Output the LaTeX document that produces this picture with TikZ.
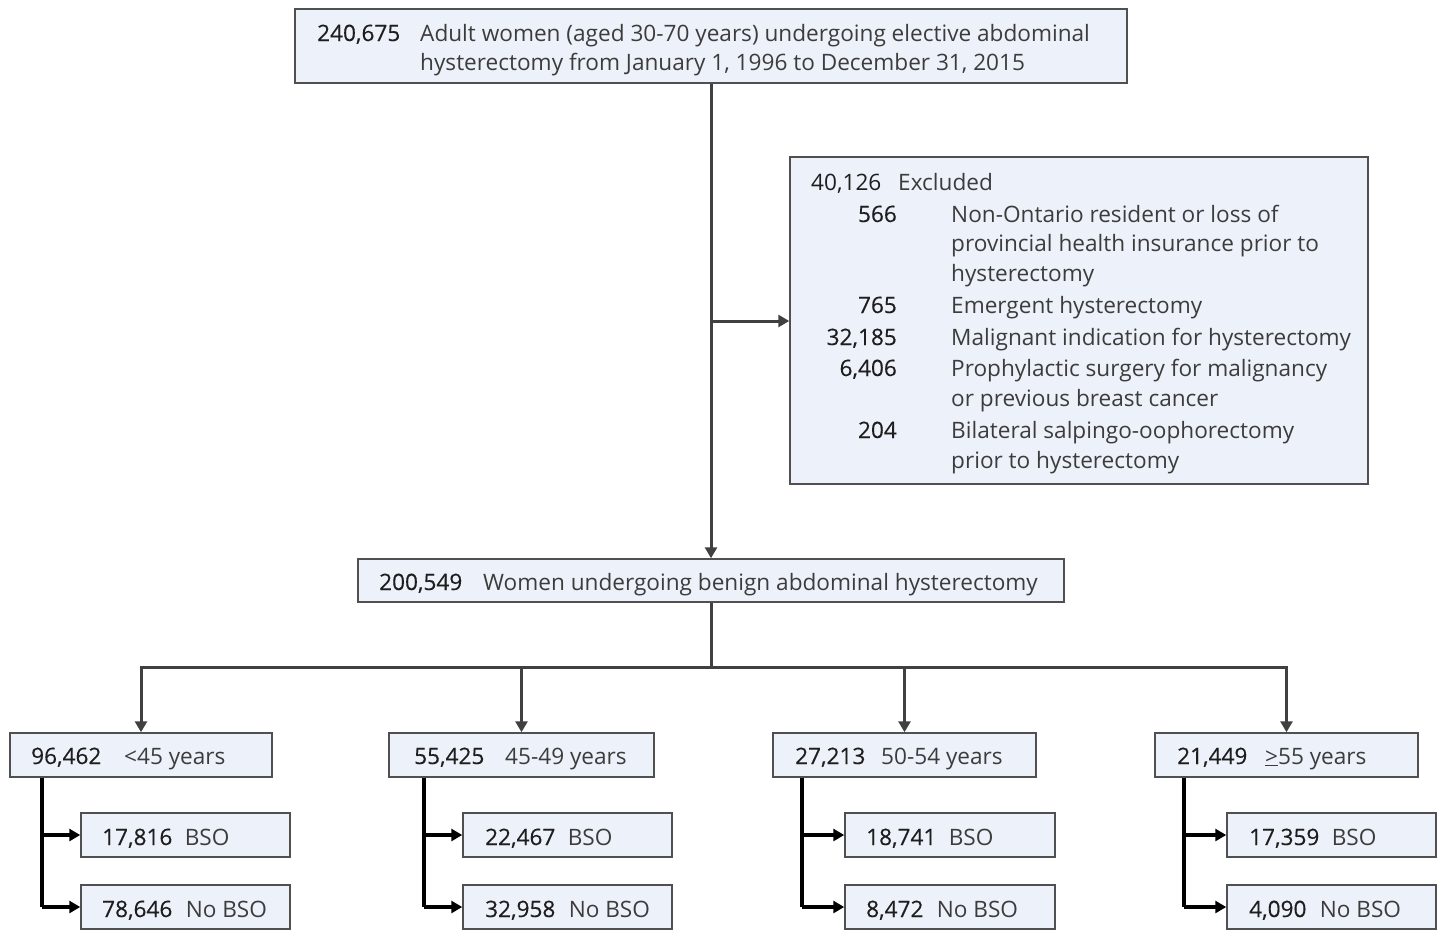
\documentclass[tikz,border=0pt]{standalone}
\usepackage{fontspec}
\setmainfont{Open Sans}
\newfontfamily\numfont{Open Sans}[FakeBold=0.3]
\usetikzlibrary{arrows.meta}
\definecolor{boxfill}{RGB}{237,242,250}
\definecolor{boxdraw}{RGB}{80,80,80}
\definecolor{linegray}{RGB}{64,64,64}
\definecolor{numcol}{RGB}{30,30,30}
\definecolor{txtcol}{RGB}{60,60,60}
\begin{document}
\begin{tikzpicture}[x=1pt,y=-1pt,
  box/.style={draw=boxdraw, fill=boxfill, line width=1.5pt, rectangle, inner sep=0pt},
  num/.style={inner sep=0pt, anchor=base west, text=numcol, font=\numfont\fontsize{22.6}{30}\selectfont},
  numr/.style={num, anchor=base east},
  txt/.style={inner sep=0pt, anchor=base west, text=txtcol, font=\fontsize{22.6}{30}\selectfont},
  mainline/.style={draw=linegray, line width=3pt},
  mainarrow/.style={mainline, -{Triangle[length=11pt,width=12pt]}},
  subline/.style={draw=black, line width=3.2pt},
  subarrow/.style={subline, -{Triangle[length=11pt,width=12pt]}}
]
\useasboundingbox (0,0) rectangle (1437,940);
\fill[white] (0,0) rectangle (1437,940);

% boxes
\node[box, minimum width=832pt, minimum height=74pt] (top) at (711,46) {};
\node[box, minimum width=578pt, minimum height=327pt] (excl) at (1079,320.5) {};
\node[box, minimum width=706pt, minimum height=43pt] (mid) at (711,580.5) {};
\node[box, minimum width=262pt, minimum height=44pt] (age1) at (141,755) {};
\node[box, minimum width=265pt, minimum height=44pt] (age2) at (521.5,755) {};
\node[box, minimum width=263pt, minimum height=44pt] (age3) at (904.5,755) {};
\node[box, minimum width=263pt, minimum height=44pt] (age4) at (1286.5,755) {};
\node[box, minimum width=209pt, minimum height=44pt] (bso1) at (185.5,835) {};
\node[box, minimum width=209pt, minimum height=44pt] (nob1) at (185.5,907) {};
\node[box, minimum width=209pt, minimum height=44pt] (bso2) at (567.5,835) {};
\node[box, minimum width=209pt, minimum height=44pt] (nob2) at (567.5,907) {};
\node[box, minimum width=210pt, minimum height=44pt] (bso3) at (950,835) {};
\node[box, minimum width=210pt, minimum height=44pt] (nob3) at (950,907) {};
\node[box, minimum width=209pt, minimum height=44pt] (bso4) at (1331.5,835) {};
\node[box, minimum width=209pt, minimum height=44pt] (nob4) at (1331.5,907) {};

% texts: top
\node[num] (t1n) at (317,41) {240,675};
\node[txt] (t1a) at (420,41) {Adult women (aged 30-70 years) undergoing elective abdominal};
\node[txt] (t1b) at (420,70) {hysterectomy from January 1, 1996 to December 31, 2015};

% excluded
\node[txt, text=numcol] (e0n) at (811,190) {40,126};
\node[txt] (e0t) at (898,190) {Excluded};
\node[numr] (e1n) at (897,222) {566};
\node[txt] (e1a) at (951,222) {Non-Ontario resident or loss of};
\node[txt] (e1b) at (951,251) {provincial health insurance prior to};
\node[txt] (e1c) at (951,281) {hysterectomy};
\node[numr] (e2n) at (897,313) {765};
\node[txt] (e2a) at (951,313) {Emergent hysterectomy};
\node[numr] (e3n) at (897,345) {32,185};
\node[txt] (e3a) at (951,345) {Malignant indication for hysterectomy};
\node[numr] (e4n) at (897,376) {6,406};
\node[txt] (e4a) at (951,376) {Prophylactic surgery for malignancy};
\node[txt] (e4b) at (951,406) {or previous breast cancer};
\node[numr] (e5n) at (897,438) {204};
\node[txt] (e5a) at (951,438) {Bilateral salpingo-oophorectomy};
\node[txt] (e5b) at (951,468) {prior to hysterectomy};

% middle
\node[num] (mn) at (379,590) {200,549};
\node[txt] (mt) at (483,590) {Women undergoing benign abdominal hysterectomy};

% ages
\node[num] (a1n) at (31,764) {96,462};
\node[txt] (a1t) at (124,764) {<45 years};
\node[num] (a2n) at (414,764) {55,425};
\node[txt] (a2t) at (505,764) {45-49 years};
\node[num] (a3n) at (795,764) {27,213};
\node[txt] (a3t) at (881,764) {50-54 years};
\node[num] (a4n) at (1177,764) {21,449};
\node[txt] (a4t) at (1265,764) {\underline{>}55 years};

% BSO
\node[num] (b1n) at (102,845) {17,816};
\node[txt] (b1t) at ([xshift=12pt]b1n.base east) {BSO};
\node[num] (c1n) at (102,917) {78,646};
\node[txt] (c1t) at ([xshift=13pt]c1n.base east) {No BSO};
\node[num] (b2n) at (485,845) {22,467};
\node[txt] (b2t) at ([xshift=12pt]b2n.base east) {BSO};
\node[num] (c2n) at (485,917) {32,958};
\node[txt] (c2t) at ([xshift=13pt]c2n.base east) {No BSO};
\node[num] (b3n) at (866,845) {18,741};
\node[txt] (b3t) at ([xshift=12pt]b3n.base east) {BSO};
\node[num] (c3n) at (866,917) {8,472};
\node[txt] (c3t) at ([xshift=13pt]c3n.base east) {No BSO};
\node[num] (b4n) at (1249,845) {17,359};
\node[txt] (b4t) at ([xshift=12pt]b4n.base east) {BSO};
\node[num] (c4n) at (1249,917) {4,090};
\node[txt] (c4t) at ([xshift=13pt]c4n.base east) {No BSO};

% connectors
\coordinate (br) at (711,321);
\draw[mainarrow] (top.south) -- (mid.north);
\draw[mainarrow] (br) -- (br -| excl.west);
\coordinate (hub) at (711,667);
\draw[mainline] (mid.south) -- (hub);
\draw[mainline, line cap=rect] (age1.north |- hub) -- (age4.north |- hub);
\foreach \a in {age1,age2,age3,age4}
  \draw[mainarrow] (\a.north |- hub) -- (\a.north);

\coordinate (s1) at (42,0);
\coordinate (s2) at (424,0);
\coordinate (s3) at (802,0);
\coordinate (s4) at (1184,0);
\foreach \i in {1,2,3,4} {
  \draw[subline] (s\i |- age\i.south) -- (s\i |- nob\i.west);
  \draw[subarrow] (s\i |- nob\i.west) -- (nob\i.west);
  \draw[subarrow] (s\i |- bso\i.west) -- (bso\i.west);
}
\end{tikzpicture}
\end{document}
